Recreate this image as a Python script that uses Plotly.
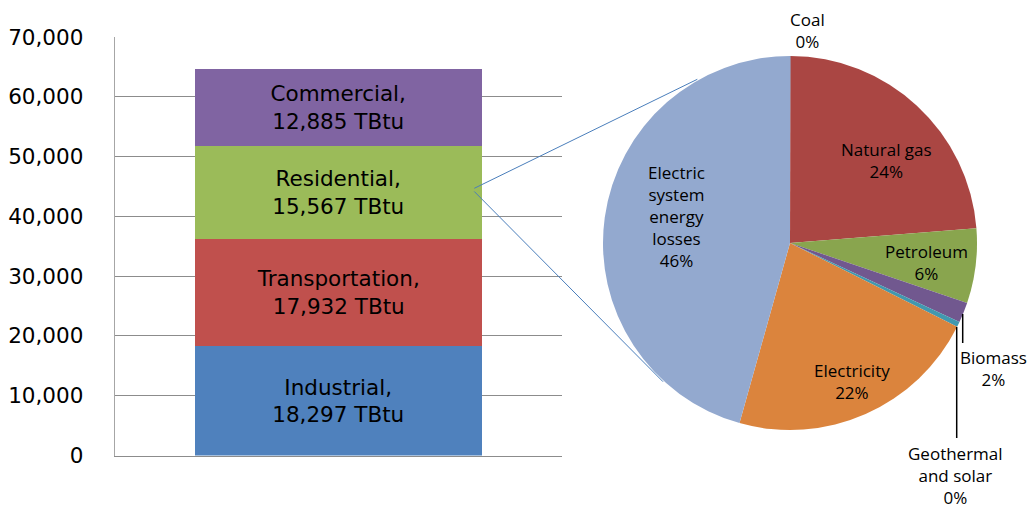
import plotly.graph_objects as go

W, H = 1028, 508
OX, OY = 0, 0  # body margin removed via post_script

# ---- data ----
sectors = ["Industrial", "Transportation", "Residential", "Commercial"]
sector_values = [18297, 17932, 15567, 12885]
sector_colors = ["#4F81BD", "#C0504D", "#9BBB59", "#8064A2"]

y_tickvals = [0, 10000, 20000, 30000, 40000, 50000, 60000, 70000]

pie_labels = ["Coal", "Natural gas", "Petroleum", "Biomass",
              "Geothermal and solar", "Electricity", "Electric system energy losses"]
pie_display = ["Coal", "Natural gas", "Petroleum", "Biomass",
               "Geothermal<br>and solar", "Electricity", "Electric<br>system<br>energy<br>losses"]
pie_values = [0.05, 23.7, 6.45, 1.75, 0.45, 21.95, 45.65]
pie_colors = ["#4572A7", "#AA4643", "#89A54E", "#71588F", "#4198AF", "#DB843D", "#93A9CF"]
# label anchor positions in pixels (centre of text block)
pie_label_pos = [(807, 30), (886, 160), (926, 262), (993, 368),
                 (955, 475), (852, 381), (676, 216)]

BAR_FONT = "DejaVu Sans"
PIE_FONT = "Open Sans"


def px(x):
    return (x - OX) / W


def py(y):
    return 1 - (y - OY) / H


fig = go.Figure()

for name, val, col in zip(sectors, sector_values, sector_colors):
    fig.add_trace(go.Bar(
        x=[0], y=[val], name=name, marker=dict(color=col, line=dict(width=0)),
        width=0.6436,
        text=[f"{name},<br>{val:,} TBtu"], textposition="inside",
        insidetextanchor="middle", textangle=0, constraintext="none",
        textfont=dict(family=BAR_FONT, size=21.5, color="#000000"),
        xaxis="x", yaxis="y", showlegend=False, hoverinfo="skip",
    ))

fig.add_trace(go.Pie(
    labels=pie_labels, values=pie_values, sort=False, direction="clockwise",
    rotation=0, marker=dict(colors=pie_colors, line=dict(width=0)),
    textinfo="none", showlegend=False, hoverinfo="skip",
    domain=dict(x=[px(603), px(977)], y=[py(430), py(56)]),
))

total = sum(pie_values)
annotations = []
for disp, v, (ax_, ay_) in zip(pie_display, pie_values, pie_label_pos):
    pct = round(v / total * 100)
    annotations.append(dict(
        x=px(ax_), y=py(ay_), xref="paper", yref="paper",
        text=f"{disp}<br>{pct}%", showarrow=False, xanchor="center", yanchor="middle",
        font=dict(family=PIE_FONT, size=17, color="#000000"), align="center",
    ))

shapes = [
    dict(type="line", xref="paper", yref="paper", x0=px(474.3), y0=py(188.3),
         x1=px(697.3), y1=py(79.3), line=dict(color="#4A7EBB", width=1)),
    dict(type="line", xref="paper", yref="paper", x0=px(474.3), y0=py(191.5),
         x1=px(663), y1=py(381.7), line=dict(color="#4A7EBB", width=1)),
    dict(type="line", xref="paper", yref="paper", x0=px(962.7), y0=py(314),
         x1=px(962.7), y1=py(343), line=dict(color="#000000", width=1.5)),
    dict(type="line", xref="paper", yref="paper", x0=px(956.7), y0=py(327),
         x1=px(956.7), y1=py(438), line=dict(color="#000000", width=1.5)),
]

fig.update_layout(
    width=W, height=H, margin=dict(l=0, r=0, t=0, b=0, autoexpand=False),
    paper_bgcolor="white", plot_bgcolor="white", barmode="stack", bargap=0,
    xaxis=dict(domain=[px(114.7), px(561.7)], range=[-0.5, 0.5], showticklabels=False,
               showgrid=False, zeroline=False, showline=True, linecolor="#8C8C8C",
               linewidth=1, ticks="", fixedrange=True, automargin=False),
    yaxis=dict(domain=[py(455.5), py(37)], range=[0, 70000], tickvals=y_tickvals,
               tickformat=",", showgrid=True, gridcolor="#8C8C8C", gridwidth=1,
               zeroline=False, showline=True, linecolor="#A6A6A6", linewidth=1,
               ticks="", ticklabelstandoff=26, automargin=False,
               tickfont=dict(family=BAR_FONT, size=21.5, color="#000000")),
    annotations=annotations, shapes=shapes,
    font=dict(family=PIE_FONT),
)

post = ("document.body.style.margin='0';"
        "document.body.style.overflow='hidden';"
        "document.documentElement.style.overflow='hidden';")
fig.write_html("out.html", post_script=post, config={"displayModeBar": False})
